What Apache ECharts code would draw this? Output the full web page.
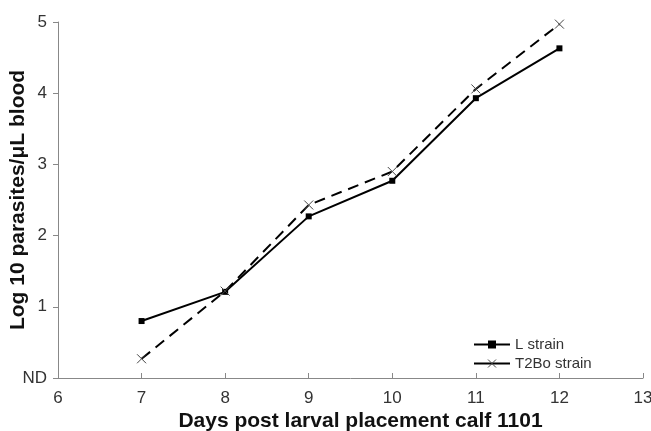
<!DOCTYPE html>
<html><head><meta charset="utf-8">
<script src="https://cdn.jsdelivr.net/npm/echarts@6/dist/echarts.min.js"></script>
<style>html,body{margin:0;padding:0;background:#fff}#c{width:651px;height:431px}</style>
</head><body><div id="c"></div>
<script>
const days = [7, 8, 9, 10, 11, 12];
const lStrain = [0.80, 1.21, 2.27, 2.77, 3.93, 4.63];
const t2boStrain = [0.27, 1.22, 2.43, 2.90, 4.06, 4.97];
const yTickLabels = ['ND', '1', '2', '3', '4', '5'];
const seriesNames = ['L strain', 'T2Bo strain'];

const xMark = 'path://M0,0L10,10M0,10L10,0';
const chart = echarts.init(document.getElementById('c'));
const pair = (xs, ys) => xs.map((x, i) => [x, ys[i]]);
chart.setOption({
  animation: false,
  grid: {left: 58, right: 8, top: 22, bottom: 53, containLabel: false, outerBoundsMode: 'none'},
  xAxis: {
    type: 'value', min: 6, max: 13, interval: 1,
    name: 'Days post larval placement calf 1101', nameLocation: 'middle', nameGap: 33,
    nameMoveOverlap: false,
    nameTextStyle: {fontFamily: 'Liberation Sans', fontWeight: 'bold', fontSize: 21, color: '#111', padding: [0, 0, 0, 20]},
    axisLine: {lineStyle: {color: '#888', width: 1}},
    axisTick: {show: true, inside: true, length: 5, lineStyle: {color: '#888'}},
    axisLabel: {fontFamily: 'Liberation Sans', fontSize: 17, color: '#333', margin: 12},
    splitLine: {show: false}
  },
  yAxis: {
    type: 'value', min: 0, max: 5, interval: 1,
    name: 'Log 10 parasites/\u03bcL blood', nameLocation: 'middle', nameGap: 29,
    nameMoveOverlap: false,
    nameTextStyle: {fontFamily: 'Liberation Sans', fontWeight: 'bold', fontSize: 21, color: '#111'},
    axisLine: {show: true, lineStyle: {color: '#888', width: 1}},
    axisTick: {show: true, length: 5, lineStyle: {color: '#888'}},
    axisLabel: {fontFamily: 'Liberation Sans', fontSize: 17, color: '#333', margin: 11,
      formatter: v => yTickLabels[Math.round(v)]},
    splitLine: {show: false}
  },
  legend: {
    left: 468, top: 332, orient: 'vertical', itemGap: 4,
    itemWidth: 36, itemHeight: 10,
    textStyle: {fontFamily: 'Liberation Sans', fontSize: 15, color: '#333'},
    data: [
      {name: seriesNames[0], lineStyle: {type: 'solid', width: 2}},
      {name: seriesNames[1], lineStyle: {type: 'solid', width: 2}, itemStyle: {borderWidth: 1, borderColor: '#444', color: 'none'}}
    ]
  },
  series: [
    {
      name: seriesNames[0], type: 'line', data: pair(days, lStrain),
      symbol: 'rect', symbolSize: 6,
      itemStyle: {color: '#000'},
      lineStyle: {color: '#000', width: 2}
    },
    {
      name: seriesNames[1], type: 'line', data: pair(days, t2boStrain),
      symbol: xMark, symbolSize: 9,
      itemStyle: {color: 'none', borderColor: '#444', borderWidth: 1},
      lineStyle: {color: '#000', width: 2, type: [11, 7]}
    }
  ]
});
</script></body></html>
